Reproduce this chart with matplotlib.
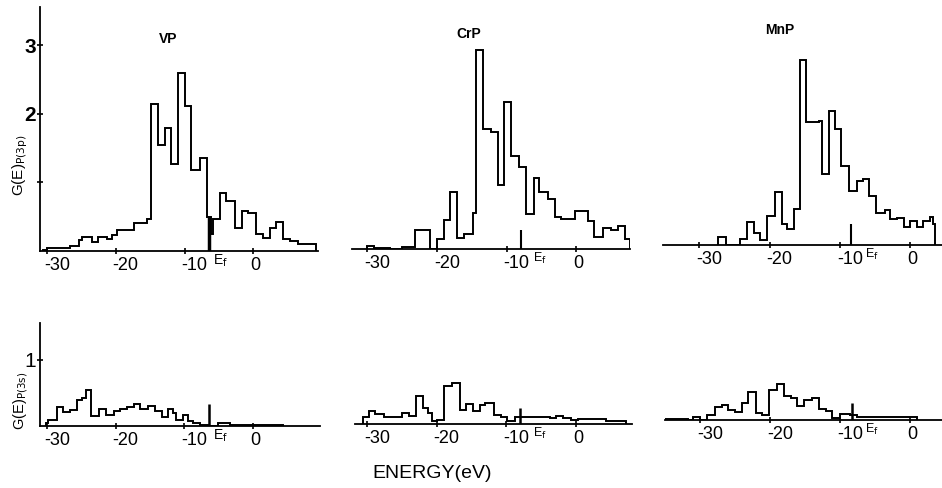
import matplotlib
matplotlib.use('Agg')
import matplotlib.pyplot as plt
from matplotlib.transforms import ScaledTranslation

plt.rcParams['font.family'] = ['Liberation Sans', 'DejaVu Sans']

# step histograms (energy edges in eV, G(E) per bin)
compounds = ['VP', 'CrP', 'MnP']
e_fermi = [-6.4, -8.0, -8.4]
x_ticks = [-30, -20, -10, 0]
x_tick_labels = ['-30', '-20', '-10', '0']

# upper row, P(3p)
vp_3p_edges = [-30.5, -30.0, -26.6, -25.4, -24.9, -23.5, -22.5, -21.3, -20.6, -19.8, -17.4, -15.5,
               -14.8, -13.8, -12.8, -11.9, -10.9, -9.9, -9.0, -7.8, -6.8, -6.2, -5.8, -4.9, -3.9,
               -2.7, -1.7, -0.8, 0.4, 1.4, 2.4, 3.3, 4.3, 5.3, 6.5, 9.1]
vp_3p = [0.01, 0.04, 0.07, 0.16, 0.20, 0.13, 0.20, 0.17, 0.23, 0.31, 0.41, 0.47, 2.14, 1.54,
         1.80, 1.27, 2.60, 2.11, 1.18, 1.35, 0.50, 0.25, 0.47, 0.84, 0.73, 0.33, 0.59, 0.55,
         0.25, 0.19, 0.33, 0.42, 0.18, 0.15, 0.10]
crp_3p_edges = [-30.0, -29.1, -26.7, -25.0, -23.1, -21.0, -20.0, -19.0, -18.1, -17.2, -16.1, -14.9,
                -14.4, -13.4, -12.3, -11.3, -10.4, -9.4, -8.2, -7.2, -6.1, -5.3, -4.1, -3.1, -2.2,
                -0.2, 1.7, 2.6, 3.8, 5.0, 6.0, 7.0, 7.7]
crp_3p = [0.05, 0.02, 0.0, 0.03, 0.27, 0.0, 0.15, 0.42, 0.83, 0.16, 0.22, 0.53, 2.90, 1.75,
          1.70, 0.93, 2.14, 1.36, 1.20, 0.51, 1.04, 0.83, 0.73, 0.46, 0.44, 0.55, 0.41, 0.17,
          0.31, 0.28, 0.33, 0.14]
mnp_3p_edges = [-27.4, -26.2, -24.3, -23.3, -22.3, -21.4, -20.4, -19.3, -18.3, -17.6, -16.6, -15.7,
                -14.8, -13.0, -12.5, -11.5, -10.7, -9.8, -8.7, -7.6, -6.7, -5.8, -4.8, -3.6, -2.8,
                -1.9, -0.9, 0.0, 1.0, 1.9, 2.8, 3.3, 3.6]
mnp_3p = [0.12, 0.0, 0.09, 0.34, 0.18, 0.07, 0.43, 0.78, 0.31, 0.23, 0.53, 2.70, 1.79, 1.81,
          1.04, 1.96, 1.69, 1.15, 0.79, 0.93, 0.96, 0.71, 0.47, 0.51, 0.38, 0.40, 0.26, 0.35,
          0.26, 0.35, 0.41, 0.31]

# lower row, P(3s)
vp_3s_edges = [-30.2, -29.8, -28.5, -27.6, -26.6, -25.6, -24.9, -24.3, -23.6, -22.4, -21.4, -20.3,
               -19.4, -18.4, -17.4, -16.5, -15.3, -14.3, -13.2, -12.4, -11.6, -11.2, -10.2, -9.5,
               -8.7, -7.8, -6.6, -5.1, -3.4, 4.3]
vp_3s = [0.04, 0.09, 0.29, 0.21, 0.24, 0.40, 0.43, 0.54, 0.15, 0.26, 0.16, 0.23, 0.26, 0.29,
         0.33, 0.26, 0.30, 0.23, 0.14, 0.26, 0.19, 0.09, 0.16, 0.08, 0.05, 0.02, 0.0, 0.05, 0.02]
crp_3s_edges = [-30.5, -29.7, -28.8, -27.6, -25.0, -23.9, -22.9, -22.0, -21.2, -20.7, -20.0, -18.9,
                -17.8, -16.7, -15.8, -14.8, -13.8, -13.0, -11.8, -10.8, -9.9, -8.8, -7.9, -6.0,
                -5.0, -3.8, -2.9, -1.9, -0.7, 0.2, 4.3, 7.2]
crp_3s = [0.10, 0.20, 0.15, 0.10, 0.16, 0.12, 0.43, 0.24, 0.17, 0.05, 0.06, 0.57, 0.62, 0.21,
          0.30, 0.19, 0.29, 0.32, 0.14, 0.11, 0.04, 0.11, 0.11, 0.10, 0.11, 0.09, 0.12, 0.09,
          0.06, 0.07, 0.05]
mnp_3s_edges = [-35.0, -33.3, -31.7, -31.0, -30.0, -29.0, -27.9, -26.9, -26.0, -25.0, -24.0, -23.2,
                -22.0, -21.1, -20.2, -19.0, -18.0, -17.1, -16.2, -15.2, -14.0, -13.1, -12.1, -11.2,
                -10.1, -8.6, -7.6, -5.95, 1.0]
mnp_3s = [0.01, 0.02, 0.0, 0.04, 0.0, 0.08, 0.20, 0.22, 0.15, 0.12, 0.25, 0.43, 0.10, 0.08,
          0.45, 0.54, 0.36, 0.34, 0.21, 0.31, 0.34, 0.16, 0.14, 0.03, 0.09, 0.08, 0.05, 0.05]

W, H = 942, 488
fig = plt.figure(figsize=(W / 100, H / 100), dpi=100)

def px_axes(left, right, top, bottom):
    return fig.add_axes([left / W, 1 - bottom / H, (right - left) / W, (bottom - top) / H])

# axes boxes in pixels: left, right, top, bottom ; plus x limits
top_boxes = [(40, 318, 7, 251), (352, 630, 5, 249), (663, 942, 1, 245)]
top_xlims = [(-31.0, 9.4), (-32.2, 7.7), (-35.2, 4.55)]
bot_boxes = [(40, 320, 323, 426), (355, 632, 321, 424), (665, 942, 317, 420)]
bot_xlims = [(-31.0, 9.7), (-31.7, 8.0), (-35.0, 4.5)]
ef_marks_top = [0.5, 0.27, 0.31]
ef_marks_bot = [0.34, 0.24, 0.26]
ef_label_dx = [2.5, 9, 10]   # points, keeps E_f clear of the -10 label

top_data = [(vp_3p_edges, vp_3p), (crp_3p_edges, crp_3p), (mnp_3p_edges, mnp_3p)]
bot_data = [(vp_3s_edges, vp_3s), (crp_3s_edges, crp_3s), (mnp_3s_edges, mnp_3s)]

def style_axis(ax, xlim, ylim, show_y):
    ax.set_xlim(*xlim)
    ax.set_ylim(*ylim)
    for s in ['top', 'right']:
        ax.spines[s].set_visible(False)
    ax.spines['left'].set_visible(show_y)
    ax.spines['bottom'].set_linewidth(1.3)
    ax.spines['left'].set_linewidth(1.3)
    ax.set_xticks(x_ticks)
    ax.set_xticklabels(x_tick_labels, fontsize=13)
    ax.tick_params(axis='x', direction='inout', length=5, width=1.2, pad=1.5)
    for lbl in ax.get_xticklabels():
        lbl.set_ha('left')
        lbl.set_transform(lbl.get_transform() + ScaledTranslation(-3 / 100, 0, fig.dpi_scale_trans))
    if not show_y:
        ax.set_yticks([])
    ax.patch.set_visible(False)

def mark_fermi(ax, i, h, lw):
    ax.vlines(e_fermi[i], 0, h, color='black', lw=lw)
    ax.annotate('E$_\\mathrm{f}$', xy=(e_fermi[i], 0), xytext=(ef_label_dx[i], -1.5),
                textcoords='offset points', ha='left', va='top', fontsize=10 if i == 0 else 9)

for i in range(3):
    ax = px_axes(*top_boxes[i])
    edges, vals = top_data[i]
    ax.stairs(vals, edges, baseline=0, color='black', lw=1.4)
    style_axis(ax, top_xlims[i], (0, 3.56), i == 0)
    mark_fermi(ax, i, ef_marks_top[i], 2.5 if i == 0 else 1.5)
    if i == 0:
        ax.set_yticks([1, 2, 3])
        ax.set_yticklabels(['', '2', '3'], fontsize=15, fontweight='bold')
        ax.tick_params(axis='y', direction='inout', length=4, width=1.2, pad=1)
    ax.text(0.46 if i == 0 else 0.42, 0.87 if i == 0 else 0.88, compounds[i], transform=ax.transAxes,
            ha='center', va='center', fontsize=10, fontweight='bold')

for i in range(3):
    ax = px_axes(*bot_boxes[i])
    edges, vals = bot_data[i]
    ax.stairs(vals, edges, baseline=0, color='black', lw=1.4)
    style_axis(ax, bot_xlims[i], (0, 1.56), i == 0)
    mark_fermi(ax, i, ef_marks_bot[i], 1.8)
    if i == 0:
        ax.set_yticks([1])
        ax.set_yticklabels(['1'], fontsize=15)
        ax.tick_params(axis='y', direction='inout', length=4, width=1.2, pad=1)

fig.text(20 / W, 1 - 165 / H, 'G(E)$_{\\mathrm{P(3p)}}$', rotation=90, ha='center', va='center', fontsize=11)
fig.text(21 / W, 1 - 401 / H, 'G(E)$_{\\mathrm{P(3s)}}$', rotation=90, ha='center', va='center', fontsize=10.5)
fig.text(432 / W, 1 - 473 / H, 'ENERGY(eV)', ha='center', va='center', fontsize=14)

fig.savefig('out.png', dpi=100)
